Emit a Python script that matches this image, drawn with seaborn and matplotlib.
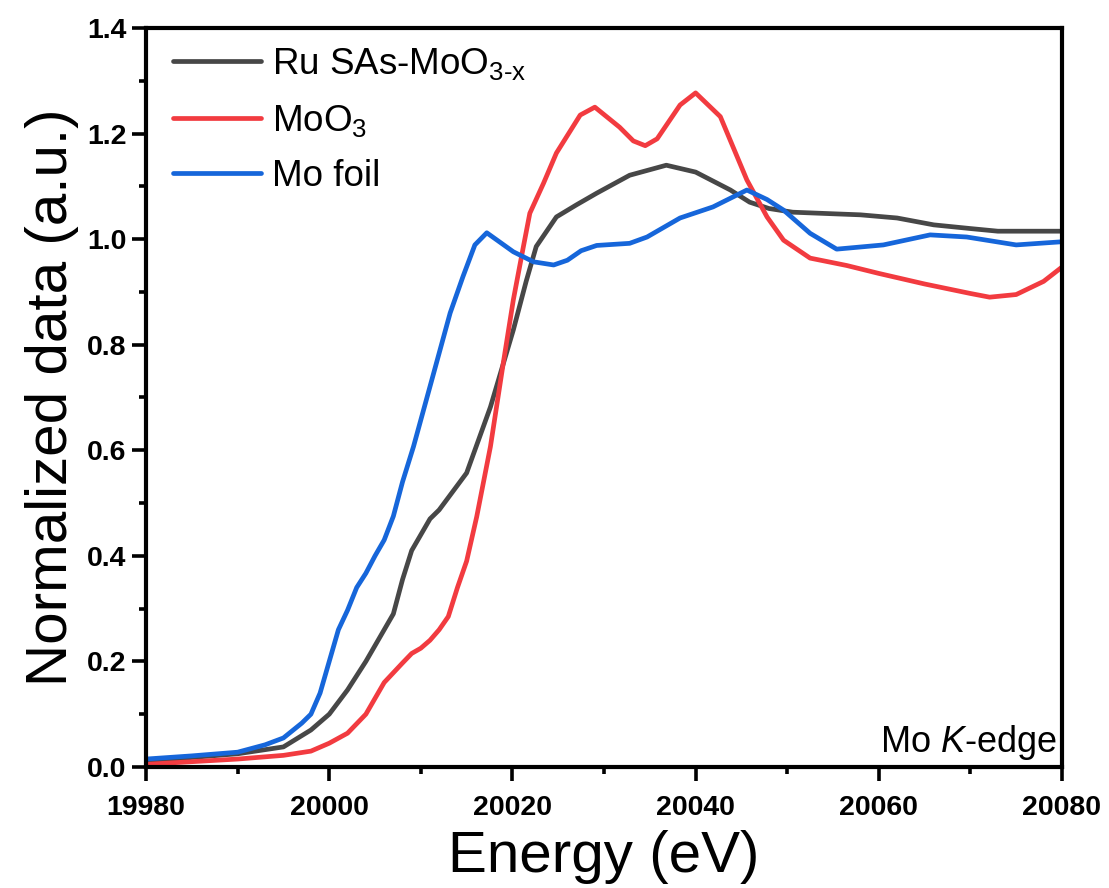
import pandas as pd
import matplotlib
matplotlib.use("Agg")
import matplotlib.pyplot as plt
import seaborn as sns
from matplotlib.ticker import MultipleLocator

# Mo K-edge XANES
ru_energy = [19980, 19985, 19990, 19995, 19998, 20000, 20002, 20004, 20006, 20007,
             20008, 20009, 20010, 20011, 20012, 20015, 20017.6, 20020.1, 20021.5,
             20022.6, 20024.8, 20027, 20029.2, 20032.8, 20036.8, 20040, 20043.8,
             20045.9, 20048, 20050.6, 20055, 20058, 20062, 20066, 20070, 20073,
             20077, 20080]
ru_norm = [0.010, 0.018, 0.025, 0.038, 0.070, 0.100, 0.146, 0.200, 0.260, 0.290,
           0.355, 0.410, 0.440, 0.470, 0.487, 0.557, 0.682, 0.828, 0.920,
           0.986, 1.042, 1.065, 1.087, 1.121, 1.140, 1.127, 1.093,
           1.070, 1.058, 1.051, 1.048, 1.046, 1.040, 1.027, 1.020, 1.015,
           1.015, 1.015]

moo3_energy = [19980, 19985, 19990, 19995, 19998, 20000, 20002, 20004, 20006, 20008,
               20009, 20010, 20011, 20012, 20013, 20014, 20015, 20016.1, 20017.6,
               20019, 20020.1, 20021.2, 20021.9, 20023.4, 20024.8, 20027.4, 20029,
               20031.7, 20033.2, 20034.5, 20035.8, 20038.3, 20040, 20042.7, 20045.6,
               20047.8, 20049.6, 20052.5, 20056.5, 20060, 20065, 20070, 20072.1,
               20075, 20078, 20080]
moo3_norm = [0.005, 0.010, 0.015, 0.022, 0.030, 0.045, 0.064, 0.100, 0.160, 0.197,
             0.215, 0.225, 0.240, 0.260, 0.285, 0.340, 0.390, 0.474, 0.607,
             0.765, 0.885, 0.986, 1.049, 1.106, 1.163, 1.235, 1.250,
             1.212, 1.186, 1.177, 1.190, 1.254, 1.277, 1.232, 1.112,
             1.042, 0.998, 0.964, 0.950, 0.935, 0.915, 0.897, 0.890,
             0.895, 0.920, 0.947]

foil_energy = [19980, 19985, 19990, 19993, 19995, 19997, 19998, 19999, 20000, 20001,
               20002, 20003, 20004, 20005, 20006, 20007, 20008, 20009.2, 20011.4,
               20013.2, 20014.6, 20015.9, 20017.2, 20020.1, 20022.3, 20024.5, 20026,
               20027.5, 20029.2, 20032.8, 20034.7, 20038.3, 20041.9, 20045.6, 20047.8,
               20049.6, 20052.5, 20055.4, 20060.5, 20065.6, 20069.6, 20075, 20080]
foil_norm = [0.015, 0.021, 0.028, 0.042, 0.055, 0.083, 0.100, 0.140, 0.200, 0.260,
             0.297, 0.340, 0.367, 0.400, 0.430, 0.475, 0.540, 0.607, 0.746,
             0.860, 0.929, 0.989, 1.012, 0.976, 0.957, 0.951, 0.960,
             0.978, 0.988, 0.992, 1.004, 1.040, 1.061, 1.093, 1.075,
             1.055, 1.011, 0.981, 0.989, 1.008, 1.004, 0.989, 0.995]

labels = [r'Ru SAs-MoO$_{3\text{-}x}$', r'MoO$_3$', 'Mo foil']
colors = ['#474747', '#f23b40', '#1666da']


def plot_xanes():
    df = pd.concat([
        pd.DataFrame({'energy': ru_energy, 'norm': ru_norm, 'sample': labels[0]}),
        pd.DataFrame({'energy': moo3_energy, 'norm': moo3_norm, 'sample': labels[1]}),
        pd.DataFrame({'energy': foil_energy, 'norm': foil_norm, 'sample': labels[2]}),
    ], ignore_index=True)

    sns.set_style('ticks')
    plt.rcParams['font.family'] = ['Liberation Sans', 'DejaVu Sans']
    plt.rcParams['mathtext.fontset'] = 'custom'
    plt.rcParams['mathtext.rm'] = 'Liberation Sans'
    plt.rcParams['mathtext.it'] = 'Liberation Sans:italic'
    plt.rcParams['mathtext.default'] = 'regular'
    for key in ['text.color', 'axes.labelcolor', 'xtick.color', 'ytick.color',
                'axes.edgecolor']:
        plt.rcParams[key] = 'black'

    fig = plt.figure(figsize=(11.09, 8.88), dpi=100)
    ax = fig.add_axes([0.1317, 0.1363, 0.8259, 0.8322])

    sns.lineplot(data=df, x='energy', y='norm', hue='sample', hue_order=labels,
                 palette=colors, linewidth=3.4, estimator=None, ax=ax)
    for line in ax.get_lines():
        line.set_solid_joinstyle('round')

    ax.set_xlim(19980, 20080)
    ax.set_ylim(0, 1.4)
    ax.xaxis.set_major_locator(MultipleLocator(20))
    ax.xaxis.set_minor_locator(MultipleLocator(10))
    ax.yaxis.set_major_locator(MultipleLocator(0.2))
    ax.yaxis.set_minor_locator(MultipleLocator(0.1))
    ax.yaxis.set_major_formatter(plt.FormatStrFormatter('%.1f'))

    for side in ['left', 'right', 'top', 'bottom']:
        ax.spines[side].set_linewidth(3)
    ax.tick_params(which='major', direction='out', length=10, width=2.6,
                   labelsize=20.5, pad=4, top=False, right=False)
    ax.tick_params(axis='x', which='major', pad=10)
    ax.tick_params(which='minor', direction='out', length=5, width=2.6,
                   top=False, right=False)
    for lab in ax.get_xticklabels() + ax.get_yticklabels():
        lab.set_fontweight('bold')

    ax.set_xlabel('Energy (eV)', fontsize=42, labelpad=7)
    ax.set_ylabel('Normalized data (a.u.)', fontsize=42, labelpad=6)

    sns.move_legend(ax, 'upper left', bbox_to_anchor=(0.009, 1.0), frameon=False,
                    title=None, fontsize=26.5, handlelength=2.4,
                    handletextpad=0.3, labelspacing=0.55, borderaxespad=0.1)

    ax.text(0.995, 0.0203, r'Mo $\mathit{K}$-edge', transform=ax.transAxes,
            ha='right', va='baseline', fontsize=26)

    fig.savefig('out.png', dpi=100)


if __name__ == '__main__':
    plot_xanes()
